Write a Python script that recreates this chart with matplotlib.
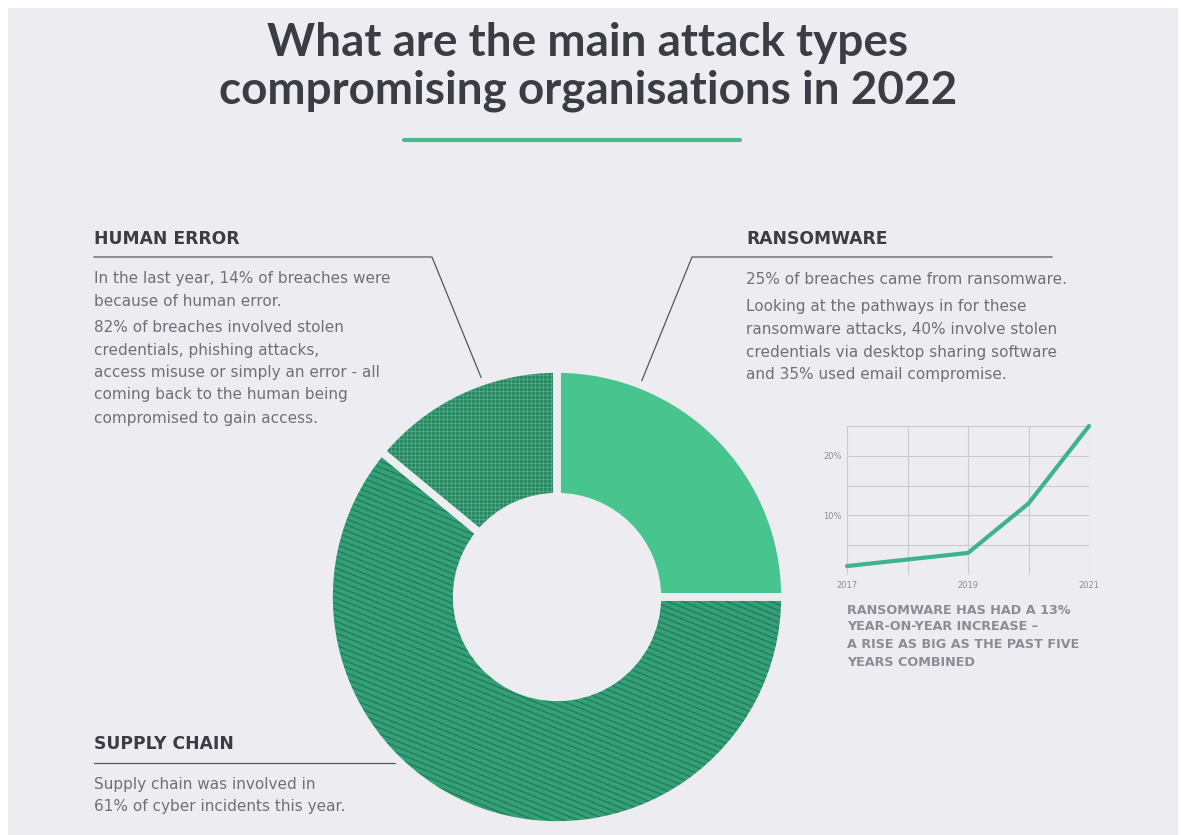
import numpy as np
import matplotlib; matplotlib.use("Agg")
import matplotlib.pyplot as plt
from matplotlib.patches import Wedge, Rectangle
from matplotlib.collections import LineCollection

plt.rcParams['font.family'] = ['DejaVu Sans']

# data
segments = ["Ransomware", "Supply chain", "Human error"]
shares = [25, 61, 14]
years = [2017, 2018, 2019, 2020, 2021]
ransom_pct = [1.5, 2.6, 3.7, 12.0, 25.0]

title = "What are the main attack types\ncompromising organisations in 2022"
human_body = ["In the last year, 14% of breaches were", "because of human error."]
human_body2 = ["82% of breaches involved stolen", "credentials, phishing attacks,",
               "access misuse or simply an error - all", "coming back to the human being",
               "compromised to gain access."]
ransom_body = ["25% of breaches came from ransomware."]
ransom_body2 = ["Looking at the pathways in for these", "ransomware attacks, 40% involve stolen",
                "credentials via desktop sharing software", "and 35% used email compromise."]
supply_body = ["Supply chain was involved in", "61% of cyber incidents this year."]
caption = ["RANSOMWARE HAS HAD A 13%", "YEAR-ON-YEAR INCREASE \u2013",
           "A RISE AS BIG AS THE PAST FIVE", "YEARS COMBINED"]

BG = "#ededf1"
DARK = "#3c3c44"
GREY = "#6f6f78"
W, H = 1181, 835

fig = plt.figure(figsize=(W / 100, H / 100), dpi=100, facecolor="white")
ax = fig.add_axes([0, 0, 1, 1])
ax.set_xlim(0, W); ax.set_ylim(H, 0); ax.axis("off")
ax.add_patch(Rectangle((8, 8), 1170, 830, fc=BG, ec="none", zorder=0))

# title + underline
ax.text(588, 67, title, ha="center", va="center", fontsize=33, fontweight="bold",
        color=DARK, linespacing=1.15, family=["Lato", "DejaVu Sans"])
ax.plot([404, 740], [140, 140], color="#4db68c", lw=3, solid_capstyle="round")

# headings, rules, leader lines
ax.text(94, 239, "HUMAN ERROR", fontsize=12.3, fontweight="bold", color=DARK, va="center")
ax.plot([94, 432, 487, ], [257, 257, 392], color="#55555d", lw=0.9)
ax.text(746, 239, "RANSOMWARE", fontsize=12.3, fontweight="bold", color=DARK, va="center")
ax.plot([1052, 692, 636], [257, 257, 395], color="#55555d", lw=0.9)
ax.text(94, 744, "SUPPLY CHAIN", fontsize=12.3, fontweight="bold", color=DARK, va="center")
ax.plot([94, 410], [763, 763], color="#55555d", lw=0.9)

for ys, lines in [([279, 301], human_body), ([327, 350, 372, 395, 418], human_body2),
                  ([279], ransom_body), ([306, 329, 352, 374], ransom_body2),
                  ([785, 806], supply_body)]:
    x0 = 746 if lines in (ransom_body, ransom_body2) else 94
    for y, s in zip(ys, lines):
        ax.text(x0, y, s, fontsize=11, color=GREY, va="center")

for y, s in zip([610, 627, 645, 662], caption):
    ax.text(847, y, s, fontsize=9.2, fontweight="bold", color="#8c8c97", va="center")

# donut
cx, cy, R = 557, 597, 228
pax = fig.add_axes([(cx - R) / W, (H - cy - R) / H, 2 * R / W, 2 * R / H])
pax.patch.set_alpha(0)
colors = ["#48c58f", "#34a077", "#2b8a63"]
wedges, _ = pax.pie(shares, colors=colors, startangle=90, counterclock=False,
                    radius=1, wedgeprops=dict(width=0.56, linewidth=0))
pax.set_xlim(-1, 1); pax.set_ylim(-1, 1); pax.set_aspect("equal"); pax.axis("off")

# stripe texture on supply chain
step = 5.5 / R
ang = np.deg2rad(-22)
d = np.array([np.cos(ang), np.sin(ang)]); n = np.array([-d[1], d[0]])
segs = [[(o * n - 2 * d), (o * n + 2 * d)] for o in np.arange(-1.5, 1.5, step)]
lc = LineCollection(segs, colors="#247c5b", linewidths=1.0, zorder=3)
lc.set_clip_path(wedges[1]); pax.add_collection(lc)

# cross-hatch on human error
g = 4 / R
segs = [[(-1.2, o), (1.2, o)] for o in np.arange(-1.2, 1.2, g)] + \
       [[(o, -1.2), (o, 1.2)] for o in np.arange(-1.2, 1.2, g)]
lc = LineCollection(segs, colors="#6cc9a2", linewidths=0.5, alpha=0.6, zorder=3)
lc.set_clip_path(wedges[2]); pax.add_collection(lc)

for w in wedges:
    pax.add_patch(Wedge(w.center, w.r, w.theta1, w.theta2, width=w.width,
                        fc="none", ec=BG, lw=5.5, zorder=4))

# small ransomware trend chart
lax = fig.add_axes([847 / W, (H - 575) / H, 242 / W, 149 / H])
lax.patch.set_alpha(0)
lax.plot(years, ransom_pct, color="#3fb38a", lw=3, solid_capstyle="round",
         solid_joinstyle="round", clip_on=False, zorder=3)
lax.set_xlim(2017, 2021); lax.set_ylim(0, 25)
lax.set_xticks(years); lax.set_yticks([0, 5, 10, 15, 20, 25])
lax.set_xticklabels(["2017", "", "2019", "", "2021"])
lax.set_yticklabels(["", "", "10%", "", "20%", ""])
lax.grid(True, color="#c9c9d1", lw=0.8)
lax.tick_params(length=0, labelsize=6, colors="#8c8c97", pad=4)
for sp in lax.spines.values():
    sp.set_visible(False)

fig.savefig("out.png", dpi=100, facecolor="white")
